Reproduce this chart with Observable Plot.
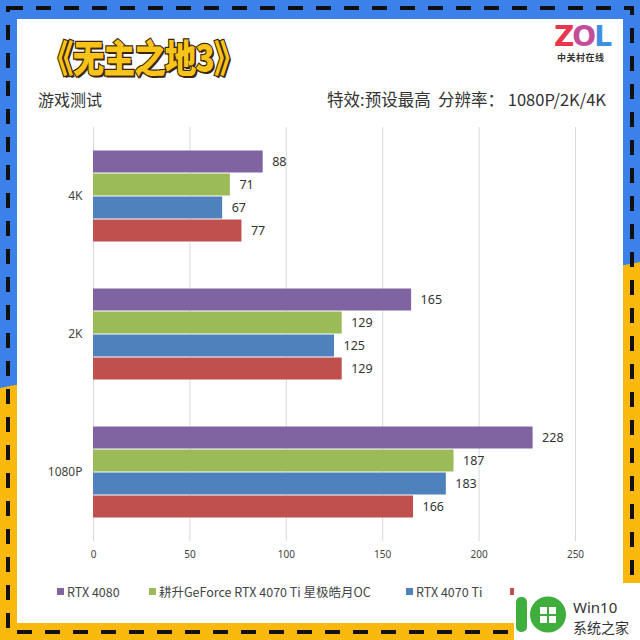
<!DOCTYPE html>
<html>
<head>
<meta charset="utf-8">
<script src="https://cdn.jsdelivr.net/npm/d3@7"></script>
<script src="https://cdn.jsdelivr.net/npm/@observablehq/plot@0.6"></script>
<style>
  html, body { margin: 0; padding: 0; background: #fff; }
  #root { position: relative; width: 640px; height: 640px; overflow: hidden; font-family: "Noto Sans CJK SC", "Noto Sans", sans-serif; }
  .abs { position: absolute; white-space: nowrap; }
  #chart { position: absolute; left: 0; top: 0; }
  #title { left: 42px; top: 29px; font-size: 38px; font-weight: 900; color: #f9c41a; line-height: 54px;
           -webkit-text-stroke: 2.5px #3b2608; paint-order: stroke fill; transform: scaleX(0.83); transform-origin: left top;
           text-shadow: 2px 2px 0 #3b2608; letter-spacing: -1px; }
  #sub { left: 38px; top: 87px; font-size: 16px; color: #333; }
  #spec { right: 34px; top: 87px; font-size: 16.5px; color: #333; }
  #zol { left: 554px; top: 22px; font-size: 28px; font-weight: 900; font-family: "DejaVu Sans", sans-serif; letter-spacing: -2px; line-height: 30px; }
  #zolcn { left: 557px; top: 51px; font-size: 9px; font-weight: 700; color: #333; letter-spacing: 0.5px; }
  .leg { top: 582px; font-size: 12.5px; color: #444; }
  .sw { position: absolute; width: 7px; height: 7px; top: 588px; }
  #wm { left: 514px; top: 583px; width: 126px; height: 57px; background: #fff; border-radius: 6px 0 0 0; }
</style>
</head>
<body>
<div id="root">
  <svg id="bg" width="640" height="640" style="position:absolute;left:0;top:0">
    <rect x="0" y="0" width="640" height="640" fill="#3c80ea"></rect>
    <polygon points="0,388 640,262 640,640 0,640" fill="#f8b80c"></polygon>
    <rect x="17" y="19" width="606" height="604" fill="#ffffff"></rect>
    <rect x="8" y="8" width="624" height="624" fill="none" stroke="#111" stroke-width="4" stroke-dasharray="15 13"></rect>
  </svg>
  <div id="chart"></div>
  <div id="title" class="abs">《无主之地3》</div>
  <div id="sub" class="abs">游戏测试</div>
  <div id="spec" class="abs">特效:预设最高&nbsp;&nbsp;分辨率：&nbsp;1080P/2K/4K</div>
  <div id="zol" class="abs"><span style="color:#e8364f">Z</span><span style="color:#c44d9a">O</span><span style="color:#3f8fe0">L</span></div>
  <div id="zolcn" class="abs">中关村在线</div>
  <div id="legend"></div>
  <div id="wm" class="abs">
    <svg width="126" height="57">
      <rect x="2" y="14" width="11" height="35" rx="5" fill="#3fae3c"></rect>
      <circle cx="34" cy="31.5" r="18" fill="#3fae3c"></circle>
      <rect x="26" y="24" width="7" height="7" fill="#fff"></rect>
      <rect x="35" y="24" width="7" height="7" fill="#fff"></rect>
      <rect x="26" y="33" width="7" height="7" fill="#fff"></rect>
      <rect x="35" y="33" width="7" height="7" fill="#fff"></rect>
      <text x="59" y="30" font-size="15" fill="#333" font-family="Noto Sans, sans-serif">Win10</text>
      <text x="59" y="50" font-size="14" fill="#333" font-family="Noto Sans CJK SC, sans-serif">系统之家</text>
    </svg>
  </div>
</div>
<script>
// ---- data ----
const resolutions = ["4K", "2K", "1080P"];
const cards = ["RTX 4080", "耕升GeForce RTX 4070 Ti 星极皓月OC", "RTX 4070 Ti", "RTX 3090 Ti"];
const colors = ["#8064a2", "#9bbb59", "#4f81bd", "#c0504d"];
const fps4K = [88, 71, 67, 77];
const fps2K = [165, 129, 125, 129];
const fps1080P = [228, 187, 183, 166];
const xTicks = [0, 50, 100, 150, 200, 250];

const seriesByRes = {"4K": fps4K, "2K": fps2K, "1080P": fps1080P};
const table = resolutions.flatMap(r => cards.map((c, i) => ({res: r, card: c, value: seriesByRes[r][i]})));

const chart = Plot.plot({
  width: 640,
  height: 640,
  marginTop: 149,
  marginBottom: 121,
  marginLeft: 93,
  marginRight: 65,
  style: {background: "transparent", fontFamily: "Noto Sans, sans-serif", color: "#444"},
  x: {domain: [0, 250], axis: null},
  y: {domain: cards, axis: null, padding: 0},
  fy: {domain: resolutions, paddingInner: 44 / 138, paddingOuter: 0, label: null},
  color: {domain: cards, range: colors},
  marks: [
    Plot.ruleX(xTicks, {x: d => d, stroke: "#d9d9d9", strokeWidth: 1, insetTop: -22, insetBottom: -22}),
    Plot.barX(table, {fy: "res", y: "card", x: "value", fill: "card", insetTop: 0.5, insetBottom: 0.5}),
    Plot.text(table, {fy: "res", y: "card", x: "value", text: d => String(d.value), dx: 9, textAnchor: "start", fontSize: 12.5, fill: "#333"}),
    Plot.axisFy({anchor: "left", tickSize: 0, tickPadding: 11, fontSize: 12, label: null}),
    Plot.axisX({ticks: xTicks, tickSize: 0, tickPadding: 31, fontSize: 10, label: null, tickFormat: d => String(d), facetAnchor: "bottom"})
  ]
});
document.getElementById("chart").appendChild(chart);

// legend (the fourth label is hidden under the watermark, as in the reference)
const legX = [57, 149, 406, 510];
const legend = document.getElementById("legend");
cards.forEach((c, i) => {
  const sw = document.createElement("div");
  sw.className = "sw";
  sw.style.left = legX[i] + "px";
  sw.style.background = colors[i];
  legend.appendChild(sw);
  const t = document.createElement("div");
  t.className = "abs leg";
  t.style.left = (legX[i] + 10) + "px";
  t.textContent = c;
  legend.appendChild(t);
});
</script>
</body>
</html>
